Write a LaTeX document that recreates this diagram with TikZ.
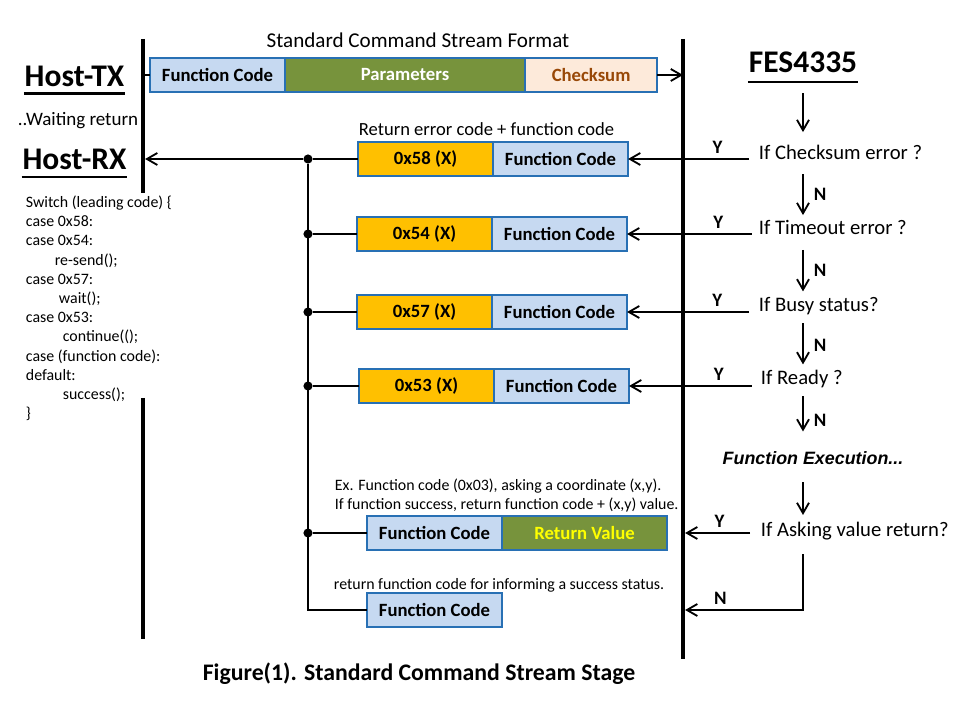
\documentclass[tikz,border=0pt]{standalone}
\usepackage{fontspec}
\setmainfont{Carlito}
\newfontfamily\arialfont{Liberation Sans}
\usetikzlibrary{positioning,arrows.meta}

\definecolor{fieldblue}{RGB}{198,217,241}
\definecolor{fieldedge}{RGB}{40,112,180}
\definecolor{paramgreen}{RGB}{119,147,60}
\definecolor{codeorange}{RGB}{255,192,0}
\definecolor{sumpeach}{RGB}{253,234,218}
\definecolor{sumbrown}{RGB}{152,72,7}
\definecolor{valyellow}{RGB}{255,255,0}

\newcommand\hostfont{\fontsize{22.4}{26}\selectfont\bfseries}
\newcommand\fieldfont{\fontsize{13.3}{16}\selectfont\bfseries}
\newcommand\askfont{\fontsize{14.7}{17}\selectfont}
\newcommand\ynfont{\fontsize{13.5}{16}\selectfont\bfseries}
\newcommand\notefont{\fontsize{11.3}{13.66}\selectfont}
\newcommand\retfont{\fontsize{13.2}{16}\selectfont}
\newcommand\ttlfont{\fontsize{15}{18}\selectfont}
\newcommand\waitfont{\fontsize{13.5}{16}\selectfont}
\newcommand\execfont{\arialfont\fontsize{12.7}{15}\selectfont\bfseries\itshape}
\newcommand\capfont{\fontsize{16.9}{20}\selectfont\bfseries}

\begin{document}
\begin{tikzpicture}[x=0.025cm, y=-0.025cm, line width=1.3pt,
  >={Straight Barb[length=2.6mm,width=3mm]},
  field/.style={draw=fieldedge, line width=1.3pt, minimum height=0.85cm, inner sep=0pt, outer sep=0pt, font=\fieldfont},
  fcode/.style={field, fill=fieldblue, minimum width=3.375cm},
  ecode/.style={field, fill=codeorange, minimum width=3.375cm},
  joint/.style={circle, fill, inner sep=0pt, minimum size=6.5pt},
  ask/.style={anchor=base west, inner sep=0pt, text height=0.75em, text depth=0.25em, font=\askfont},
  yn/.style={inner sep=0pt, font=\ynfont},
  note/.style={anchor=base west, inner sep=0pt, font=\notefont},
  bar/.style={line width=2.8pt},
  uline/.style={line width=1.8pt}]
  \useasboundingbox (0,0) rectangle (960,720);

  % host and device lines
  \coordinate (txtop) at (143,39);
  \coordinate (txmid) at (143,193);
  \coordinate (txlow) at (143,398);
  \coordinate (txbot) at (143,639);
  \coordinate (festop) at (683,39);
  \coordinate (fesbot) at (683,659);
  \draw[bar] (txtop) -- (txmid);
  \draw[bar] (txlow) -- (txbot);
  \draw[bar] (festop) -- (fesbot);

  \node[font=\hostfont, anchor=base, inner sep=0pt] (htx) at (74.5,87) {Host-TX};
  \draw[uline] ([yshift=-4.5pt]htx.base west) -- ([yshift=-4.5pt]htx.base east);
  \node[font=\waitfont, anchor=base, inner sep=0pt] (wait) at (78,126) {..Waiting return};
  \node[font=\hostfont, anchor=base, inner sep=0pt] (hrx) at (74.5,170) {Host-RX};
  \draw[uline] ([yshift=-5pt]hrx.base west) -- ([yshift=-5pt]hrx.base east);
  \node[anchor=north west, inner sep=0pt, align=left, font=\notefont] (sw) at (25,195)
    {Switch (leading code) \{\\
     case 0x58:\\
     case 0x54:\\
     \hspace*{20.6pt}re-send();\\
     case 0x57:\\
     \hspace*{23.5pt}wait();\\
     case 0x53:\\
     \hspace*{26.3pt}continue(();\\
     case (function code):\\
     default:\\
     \hspace*{26.3pt}success();\\
     \}};

  % command stream
  \node[font=\ttlfont, anchor=base, inner sep=0pt] (ttl) at (418,48) {Standard Command Stream Format};
  \node[fcode, anchor=west] (fc0) at (150,75) {Function Code};
  \node[field, fill=paramgreen, text=white, minimum width=6cm, right=0pt of fc0] (par) {Parameters};
  \node[field, fill=sumpeach, text=sumbrown, minimum width=3.3cm, right=0pt of par] (sum) {Checksum};
  \draw (txtop |- fc0) -- (fc0.west);
  \draw[->] (sum.east) -- (festop |- sum);

  % device checks
  \node[font=\hostfont, anchor=base, inner sep=0pt] (fes) at (803,73) {FES4335};
  \draw[uline] ([yshift=-6.4pt]fes.base west) -- ([yshift=-6.4pt]fes.base east);
  \node[ask] (q1) at (758,160) {If Checksum error ?};
  \node[ask] (q2) at (758,235) {If Timeout error ?};
  \node[ask] (q3) at (758,312) {If Busy status?};
  \node[ask] (q4) at (760,385) {If Ready ?};
  \node[font=\execfont, anchor=base, inner sep=0pt, text depth=0.25em] (exec) at (813,465) {Function Execution...};
  \node[ask] (q5) at (760,537) {If Asking value return?};

  \draw[->, shorten <=13.5pt, shorten >=11.7pt] (fes.south) -- (fes.south |- q1.north);
  \draw[->, shorten <=7pt, shorten >=6pt] (q1.south -| fes) -- (q2.north -| fes) node[yn, midway, right=7pt] {N};
  \draw[->, shorten <=7.5pt, shorten >=6.5pt] (q2.south -| fes) -- (q3.north -| fes) node[yn, midway, right=7pt] {N};
  \draw[->, shorten <=5pt, shorten >=6.5pt] (q3.south -| fes) -- (q4.north -| fes) node[yn, midway, right=7pt] {N};
  \draw[->, shorten <=5pt, shorten >=14pt] (q4.south -| fes) -- (exec.north -| fes) node[yn, midway, right=7pt] {N};
  \draw[->, shorten <=9pt, shorten >=7.5pt] (exec.south -| fes) -- (q5.north -| fes);

  % returned streams
  \node[note, font=\retfont] (rtn) at (358,136) {Return error code + function code};
  \node[ecode, anchor=west] (e58) at (358,159) {0x58 (X)};
  \node[fcode, right=0pt of e58] (f58) {Function Code};
  \node[ecode, anchor=west] (e54) at (357,234) {0x54 (X)};
  \node[fcode, right=0pt of e54] (f54) {Function Code};
  \node[ecode, anchor=west] (e57) at (357,312) {0x57 (X)};
  \node[fcode, right=0pt of e57] (f57) {Function Code};
  \node[ecode, anchor=west] (e53) at (359,386) {0x53 (X)};
  \node[fcode, right=0pt of e53] (f53) {Function Code};
  \node[note] (ex1) at (334,491) {Ex. Function code (0x03), asking a coordinate (x,y).};
  \node[note] (ex2) at (334,510) {If function success, return function code + (x,y) value.};
  \node[fcode, anchor=west] (f5) at (367,533) {Function Code};
  \node[field, fill=paramgreen, text=valyellow, minimum width=4.125cm, right=0pt of f5] (rv) {Return Value};
  \node[note] (ok) at (333,589) {return function code for informing a success status.};
  \node[fcode, anchor=west] (f6) at (367,610) {Function Code};

  \draw[->] ([xshift=-6.4pt]q1.west |- f58) -- (f58.east) node[yn, pos=0.26, above=3pt] {Y};
  \draw[->] ([xshift=-4.3pt]q2.west |- f54) -- (f54.east) node[yn, pos=0.27, above=3pt] {Y};
  \draw[->] ([xshift=-6.4pt]q3.west |- f57) -- (f57.east) node[yn, pos=0.26, above=3pt] {Y};
  \draw[->] ([xshift=-5.7pt]q4.west |- f53) -- (f53.east) node[yn, pos=0.27, above=3pt] {Y};
  \draw[->] ([xshift=-7pt]q5.west |- rv) -- ([xshift=1.5pt]fesbot |- rv) node[yn, pos=0.47, above=3pt] {Y};
  \draw[->, shorten <=9pt] (q5.south -| fes) |- ([xshift=1.5pt]fesbot |- f6) node[yn, pos=0.85, above=3pt] {N};

  % bus to host
  \node[joint] (j1) at (308,159) {};
  \node[joint] (j2) at (308,234) {};
  \node[joint] (j3) at (308,312) {};
  \node[joint] (j4) at (308,386) {};
  \node[joint] (j5) at (308,533) {};
  \coordinate (j6) at (308,610);
  \draw (j1) -- (e58.west);
  \draw (j2) -- (e54.west);
  \draw (j3) -- (e57.west);
  \draw (j4) -- (e53.west);
  \draw (j5) -- (f5.west);
  \draw (j1) -- (j6) -- (f6.west);
  \draw[->] (j1) -- ([xshift=1.5pt]txmid |- j1);

  \node[font=\capfont, anchor=base, inner sep=0pt] (cap) at (419,680) {Figure(1). Standard Command Stream Stage};
\end{tikzpicture}
\end{document}
